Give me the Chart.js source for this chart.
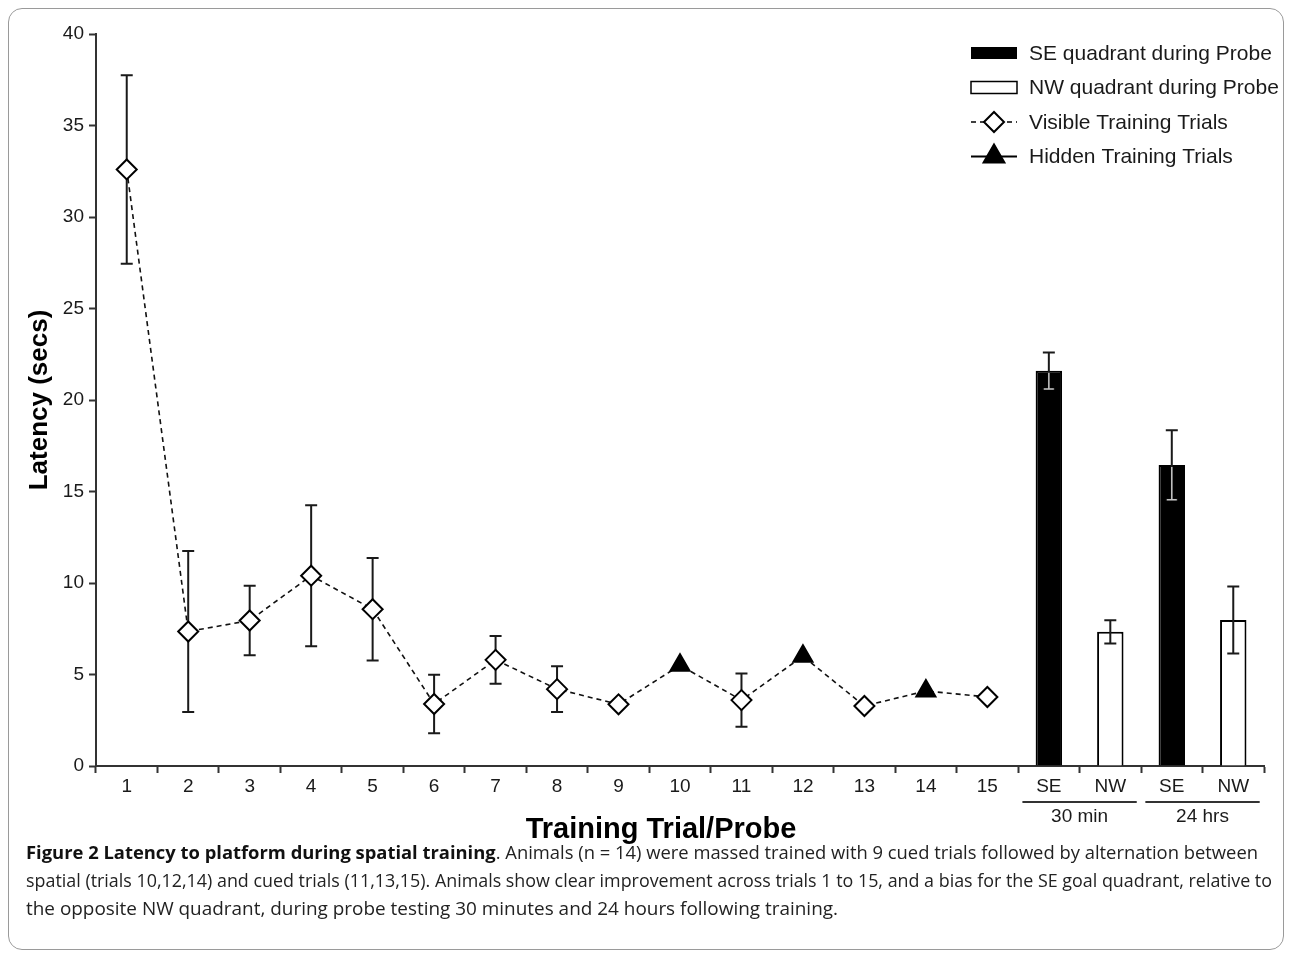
<!DOCTYPE html>
<html>
<head>
<meta charset="utf-8">
<script src="https://cdn.jsdelivr.net/npm/chart.js@4"></script>
<style>
  html, body { margin: 0; padding: 0; background: #fff; }
  #fig { position: relative; width: 1292px; height: 956px; overflow: hidden; background: #fff; }
  #plot { position: absolute; left: 0; top: 0; }
  #frame { position: absolute; left: 8px; top: 8px; width: 1276px; height: 942px; z-index: 2;
           border: 1px solid #9a9a9a; border-radius: 14px; box-sizing: border-box; pointer-events: none; }
  #caption { position: absolute; left: 26px; top: 838px; font-family: 'Open Sans', 'Noto Sans', sans-serif;
             font-size: 17.5px; color: #222; line-height: 28px; }
  #caption div { white-space: nowrap; }
  #caption span.ln { display: inline-block; transform-origin: 0 50%; }
  #caption b { font-weight: 700; color: #111; }
</style>
</head>
<body>
<div id="fig">
  <canvas id="plot" width="1292" height="860"></canvas>
  <div id="caption">
    <div><span class="ln" data-w="1232"><b>Figure 2 Latency to platform during spatial training</b>. Animals (n = 14) were massed trained with 9 cued trials followed by alternation between</span></div>
    <div><span class="ln" data-w="1246">spatial (trials 10,12,14) and cued trials (11,13,15). Animals show clear improvement across trials 1 to 15, and a bias for the SE goal quadrant, relative to</span></div>
    <div><span class="ln" data-w="812">the opposite NW quadrant, during probe testing 30 minutes and 24 hours following training.</span></div>
  </div>
  <div id="frame"></div>
</div>
<script>
// Categories along the x axis: 15 training trials, then the two probe tests (SE / NW quadrant)
const trialLabels = ['1', '2', '3', '4', '5', '6', '7', '8', '9', '10', '11', '12', '13', '14', '15'];
const probeLabels = ['SE', 'NW', 'SE', 'NW'];
const probeGroups = ['30 min', '24 hrs'];

// Mean escape latency (s) per training trial and its SEM (null = bar hidden by the marker)
const trialMeans = [32.6, 7.35, 7.95, 10.4, 8.57, 3.39, 5.8, 4.2, 3.37, 5.5, 3.6, 6.0, 3.28, 4.1, 3.77];
const trialSEM   = [5.15, 4.4, 1.9, 3.85, 2.8, 1.6, 1.3, 1.25, null, null, 1.45, null, null, null, null];
const hiddenTrials = [10, 12, 14];

// Time spent in the quadrant during probe tests (s) and SEM
const probeMeans = [21.6, 7.33, 16.45, 7.98];
const probeSEM   = [1.0, 0.63, 1.9, 1.83];
const probeFills = ['#000000', '#ffffff', '#000000', '#ffffff'];

const yTicks = [0, 5, 10, 15, 20, 25, 30, 35, 40];

const legendLabels = ['SE quadrant during Probe', 'NW quadrant during Probe',
                      'Visible Training Trials', 'Hidden Training Trials'];

const INK = '#1a1a1a';
Chart.defaults.font.family = "'Liberation Sans', Arial, Helvetica, sans-serif";
Chart.defaults.color = INK;

const allLabels = trialLabels.concat(probeLabels);
const nT = trialLabels.length;
const pad = n => Array(n).fill(null);

const isHidden = trialLabels.map(l => hiddenTrials.includes(Number(l)));

function drawWhisker(ctx, x, yTop, yBot, half, color, width) {
  ctx.save();
  ctx.strokeStyle = color;
  ctx.lineWidth = width;
  ctx.beginPath();
  ctx.moveTo(x, yTop); ctx.lineTo(x, yBot);
  ctx.moveTo(x - half, yTop); ctx.lineTo(x + half, yTop);
  ctx.moveTo(x - half, yBot); ctx.lineTo(x + half, yBot);
  ctx.stroke();
  ctx.restore();
}

// SEM whiskers: trial whiskers sit beneath the markers, probe whiskers on top of the bars
const errorBars = {
  id: 'errorBars',
  beforeDatasetsDraw(chart) {
    const { ctx, scales: { x, y } } = chart;
    trialMeans.forEach((m, i) => {
      const e = trialSEM[i];
      if (e == null) return;
      drawWhisker(ctx, x.getPixelForValue(i), y.getPixelForValue(m + e), y.getPixelForValue(m - e), 6, INK, 2);
    });
  },
  afterDatasetsDraw(chart) {
    const { ctx, scales: { x, y } } = chart;
    probeMeans.forEach((m, j) => {
      const e = probeSEM[j];
      const px = x.getPixelForValue(nT + j);
      const yT = y.getPixelForValue(m + e), yM = y.getPixelForValue(m), yB = y.getPixelForValue(m - e);
      drawWhisker(ctx, px, yT, yB, 6, INK, 2);
      if (probeFills[j] === '#000000') {
        // part of the whisker lying inside a solid bar shows up light
        ctx.save();
        ctx.strokeStyle = '#c4c4c4';
        ctx.lineWidth = 1.5;
        ctx.beginPath();
        ctx.moveTo(px, yM + 2); ctx.lineTo(px, yB);
        ctx.moveTo(px - 5, yB); ctx.lineTo(px + 5, yB);
        ctx.stroke();
        ctx.restore();
      }
    });
  }
};

// Group brackets under the probe categories and the x-axis title
const axisExtras = {
  id: 'axisExtras',
  afterDraw(chart) {
    const { ctx, chartArea, scales: { x } } = chart;
    const half = (x.getPixelForValue(1) - x.getPixelForValue(0)) * 0.43;
    ctx.save();
    probeGroups.forEach((g, k) => {
      const a = x.getPixelForValue(nT + 2 * k) - half;
      const b = x.getPixelForValue(nT + 2 * k + 1) + half;
      ctx.strokeStyle = '#333';
      ctx.lineWidth = 2;
      ctx.beginPath();
      ctx.moveTo(a, chartArea.bottom + 36); ctx.lineTo(b, chartArea.bottom + 36);
      ctx.stroke();
      ctx.fillStyle = INK;
      ctx.font = "19px 'Liberation Sans', Arial, sans-serif";
      ctx.textAlign = 'center';
      ctx.textBaseline = 'middle';
      ctx.fillText(g, (a + b) / 2, chartArea.bottom + 51);
    });
    ctx.font = "bold 29px 'Liberation Sans', Arial, sans-serif";
    ctx.fillStyle = '#000';
    ctx.textAlign = 'center';
    ctx.textBaseline = 'middle';
    ctx.fillText('Training Trial/Probe', (chartArea.left + chartArea.right) / 2 - 19, chartArea.bottom + 64);
    ctx.restore();
  }
};

// Legend in the upper right corner
const legendBox = {
  id: 'legendBox',
  afterDraw(chart) {
    const { ctx, chartArea } = chart;
    const x0 = chartArea.right - 293, w = 46, tx = x0 + 58;
    const rowY = i => chartArea.top + 19 + i * 34.5;
    ctx.save();
    // solid bar swatch
    ctx.fillStyle = '#000';
    ctx.fillRect(x0, rowY(0) - 6, w, 12);
    // open bar swatch
    ctx.strokeStyle = '#000';
    ctx.lineWidth = 1.5;
    ctx.fillStyle = '#fff';
    ctx.fillRect(x0, rowY(1) - 6, w, 12);
    ctx.strokeRect(x0, rowY(1) - 6, w, 12);
    // dashed line + open diamond
    ctx.lineWidth = 1.5;
    ctx.setLineDash([5, 4]);
    ctx.beginPath(); ctx.moveTo(x0, rowY(2)); ctx.lineTo(x0 + w, rowY(2)); ctx.stroke();
    ctx.setLineDash([]);
    ctx.fillStyle = '#fff'; ctx.lineWidth = 2;
    Chart.helpers.drawPoint(ctx, { pointStyle: 'rectRot', radius: 10, borderWidth: 2 }, x0 + w / 2, rowY(2));
    // solid line + filled triangle
    ctx.lineWidth = 2;
    ctx.beginPath(); ctx.moveTo(x0, rowY(3)); ctx.lineTo(x0 + w, rowY(3)); ctx.stroke();
    ctx.fillStyle = '#000';
    Chart.helpers.drawPoint(ctx, { pointStyle: 'triangle', radius: 12, borderWidth: 2 }, x0 + w / 2, rowY(3));
    // labels
    ctx.fillStyle = INK;
    ctx.font = "21px 'Liberation Sans', Arial, sans-serif";
    ctx.textAlign = 'left';
    ctx.textBaseline = 'middle';
    legendLabels.forEach((t, i) => ctx.fillText(t, tx, rowY(i) + 1));
    ctx.restore();
  }
};

new Chart(document.getElementById('plot'), {
  type: 'bar',
  data: {
    labels: allLabels,
    datasets: [
      {
        type: 'bar',
        label: 'Probe',
        data: pad(nT).concat(probeMeans),
        backgroundColor: pad(nT).map(() => '#fff').concat(probeFills),
        borderColor: '#000',
        borderWidth: 2,
        barPercentage: 0.43,
        categoryPercentage: 1,
        order: 2
      },
      {
        type: 'line',
        label: 'Training',
        data: trialMeans.concat(pad(probeLabels.length)),
        borderColor: '#111',
        borderWidth: 1.6,
        borderDash: [5, 4],
        tension: 0,
        fill: false,
        pointStyle: isHidden.map(h => h ? 'triangle' : 'rectRot'),
        pointRadius: isHidden.map(h => h ? 11 : 10),
        pointBackgroundColor: isHidden.map(h => h ? '#000' : '#fff'),
        pointBorderColor: '#000',
        pointBorderWidth: 2,
        order: 1
      }
    ]
  },
  options: {
    responsive: false,
    animation: false,
    devicePixelRatio: 1,
    layout: { padding: { left: 14, top: 34, right: 28, bottom: 0 } },
    plugins: { legend: { display: false }, tooltip: { enabled: false } },
    scales: {
      x: {
        offset: true,
        grid: { offset: true, drawOnChartArea: false, drawTicks: true, tickLength: 7, tickColor: '#333', tickWidth: 2 },
        border: { display: true, color: '#333', width: 2 },
        ticks: { autoSkip: false, maxRotation: 0, padding: 2, font: { size: 19 }, color: INK },
        afterFit(s) { s.height = 94; }
      },
      y: {
        min: 0, max: 40,
        afterBuildTicks(s) { s.ticks = yTicks.map(v => ({ value: v })); },
        grid: { drawOnChartArea: false, drawTicks: true, tickLength: 7, tickColor: '#333', tickWidth: 2 },
        border: { display: true, color: '#333', width: 2 },
        ticks: { padding: 5, font: { size: 19 }, color: INK },
        title: { display: true, text: 'Latency (secs)', font: { size: 26, weight: 'bold' }, color: '#000', padding: { top: 10, bottom: 0 } },
        afterFit(s) { s.width = 82; }
      }
    }
  },
  plugins: [errorBars, axisExtras, legendBox]
});

// fit each caption line to its set width
document.querySelectorAll('#caption span.ln').forEach(s => {
  const target = Number(s.dataset.w);
  const w = s.getBoundingClientRect().width;
  if (target && w) s.style.transform = 'scaleX(' + (target / w) + ')';
});
</script>
</body>
</html>
